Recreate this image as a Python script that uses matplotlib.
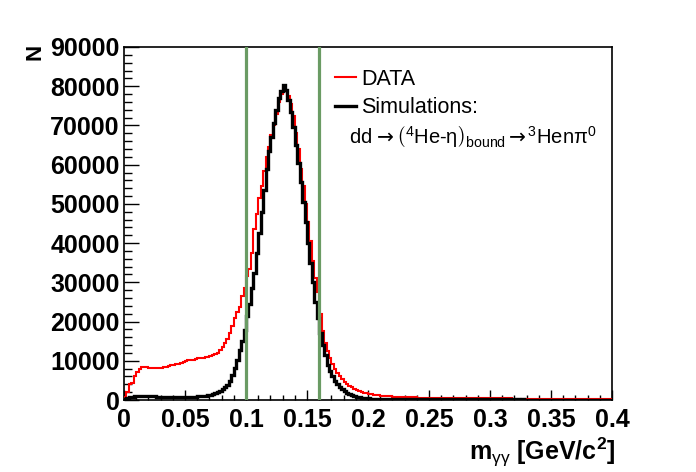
import numpy as np
import matplotlib
matplotlib.use("Agg")
import matplotlib.pyplot as plt

plt.rcParams['font.family'] = ['Liberation Sans', 'DejaVu Sans']
plt.rcParams['mathtext.fontset'] = 'custom'
plt.rcParams['mathtext.rm'] = 'Liberation Sans'
plt.rcParams['mathtext.it'] = 'Liberation Sans'
plt.rcParams['mathtext.bf'] = 'Liberation Sans:bold'
plt.rcParams['mathtext.sf'] = 'DejaVu Sans'

# ---- data (200 bins of 0.002 GeV/c^2 from 0 to 0.4) ----
x_min, x_max, n_bins = 0.0, 0.4, 200

data_counts = [
    800, 2100, 4200, 4400, 6100, 7200, 8000, 8300, 8350, 8300,
    8200, 8150, 8100, 8100, 8100, 8150, 8300, 8500, 8700, 8800,
    8900, 9100, 9300, 9500, 9700, 9900, 10100, 10200, 10300, 10400,
    10600, 10700, 10800, 10900, 11000, 11200, 11400, 11700, 12100, 12700,
    13500, 14500, 15600, 17000, 18800, 20800, 22500, 23800, 26500, 28500,
    31500, 33500, 37500, 43500, 47500, 51500, 54500, 58500, 62000, 64500,
    67500, 70000, 73000, 76000, 78000, 79500, 78800, 77500, 75500, 72500,
    68000, 64000, 59000, 54500, 50000, 45500, 40500, 35500, 31000, 27500,
    22000, 17500, 14500, 12500, 10800, 9300, 8000, 7000, 6100, 5300,
    4700, 4100, 3600, 3200, 2900, 2600, 2300, 2100, 1900, 1700,
    1550, 1450, 1350, 1270, 1200, 1130, 1070, 1020, 970, 930,
    890, 850, 820, 790, 760, 730, 710, 690, 670, 650,
    630, 610, 600, 590, 570, 560, 550, 540, 530, 520,
    510, 500, 495, 490, 485, 480, 470, 465, 460, 455,
    450, 445, 440, 440, 435, 430, 425, 420, 420, 415,
    410, 410, 405, 400, 400, 395, 390, 390, 385, 380,
    380, 375, 375, 370, 370, 365, 365, 360, 360, 355,
    355, 350, 350, 350, 345, 345, 340, 340, 340, 335,
    335, 335, 330, 330, 330, 325, 325, 325, 320, 320,
    320, 315, 315, 315, 310, 310, 310, 305, 305, 300,
]

sim_counts = [
    300, 500, 700, 800, 900, 950, 1000, 1100, 1050, 1000,
    1000, 950, 900, 850, 800, 800, 750, 750, 700, 700,
    700, 700, 700, 700, 750, 750, 750, 800, 800, 850,
    900, 950, 1000, 1100, 1250, 1400, 1600, 1850, 2100, 2400,
    2800, 3300, 3900, 4900, 6300, 8200, 10300, 12700, 15000, 17800,
    21500, 24500, 28500, 32500, 37500, 42500, 48000, 53500, 59000, 63500,
    67000, 70500, 74000, 77000, 78800, 80200, 79000, 76500, 73500, 69500,
    65000, 60500, 55500, 50500, 45500, 40000, 35000, 30000, 25000, 21000,
    17000, 14000, 11500, 9000, 7300, 6000, 4900, 4000, 3300, 2700,
    2200, 1800, 1500, 1200, 1000, 850, 700, 600, 500, 450,
    420, 380, 350, 330, 310, 290, 275, 260, 250, 240,
    230, 225, 220, 215, 210, 205, 200, 200, 195, 190,
    190, 185, 190, 180, 185, 175, 180, 175, 170, 175,
    170, 165, 170, 165, 160, 165, 160, 160, 155, 160,
    155, 150, 155, 150, 150, 145, 150, 145, 145, 140,
    145, 140, 140, 135, 140, 135, 135, 130, 135, 130,
    130, 130, 125, 130, 125, 125, 120, 125, 120, 120,
    120, 115, 120, 115, 115, 115, 110, 115, 110, 110,
    110, 110, 105, 110, 105, 105, 105, 100, 105, 100,
    100, 100, 100, 95, 100, 95, 95, 95, 95, 90,
]

cut_lines = [0.10, 0.16]
x_ticks = [0, 0.05, 0.1, 0.15, 0.2, 0.25, 0.3, 0.35, 0.4]
x_tick_labels = ["0", "0.05", "0.1", "0.15", "0.2", "0.25", "0.3", "0.35", "0.4"]
y_ticks = [0, 10000, 20000, 30000, 40000, 50000, 60000, 70000, 80000, 90000]

edges = np.linspace(x_min, x_max, n_bins + 1)

fig = plt.figure(figsize=(6.96, 4.72), dpi=100)
ax = fig.add_axes([124/696, 72/472, 488/696, 353/472])

ax.stairs(data_counts, edges, color='#ff0000', linewidth=1.5, label='DATA', zorder=3)
ax.stairs(sim_counts, edges, color='black', linewidth=2.4, label='Simulations:', zorder=4)

for c in cut_lines:
    ax.axvline(c, color='#6a9b64', linewidth=2.3, zorder=5)

ax.set_xlim(x_min, x_max)
ax.set_ylim(0, 90000)

ax.set_xticks(x_ticks)
ax.set_xticklabels(x_tick_labels)
ax.set_xticks(np.arange(0, 0.4001, 0.01), minor=True)
ax.set_yticks(y_ticks)
ax.set_yticklabels([str(v) for v in y_ticks])
ax.set_yticks(np.arange(0, 90001, 2000), minor=True)

ax.tick_params(axis='x', which='major', direction='in', length=7.5, width=1.0,
               labelsize=18, pad=6, top=False)
ax.tick_params(axis='x', which='minor', direction='in', length=3.8, width=1.0, top=False)
ax.tick_params(axis='y', which='major', direction='in', length=11, width=1.0,
               labelsize=18, pad=3, right=False)
ax.tick_params(axis='y', which='minor', direction='in', length=6, width=1.0, right=False)
for lab in ax.get_xticklabels() + ax.get_yticklabels():
    lab.set_fontweight('bold')

for s in ax.spines.values():
    s.set_linewidth(1.2)

leg = ax.legend(loc='upper left', bbox_to_anchor=(0.415, 0.962), frameon=False,
                fontsize=15.5, handlelength=0.95, handletextpad=0.25,
                labelspacing=0.33, borderaxespad=0.0)

ax.text(0.462, 0.727,
        r'dd $\mathsf{→}\,\left(^{4}\mathrm{He}\text{-}\eta\right)_{\mathrm{bound}}\,\mathsf{→}\,^{3}\mathrm{Hen}\pi^{0}$',
        transform=ax.transAxes, fontsize=14.5, ha='left', va='baseline')

fig.text(615/696, 12/472, r'$\mathbf{m}_{\gamma\gamma}$ [GeV/c$^{\mathbf{2}}$]',
         fontsize=18, fontweight='bold', ha='right', va='baseline')
fig.text(35/696, 1 - 52/472, 'N', fontsize=16, fontweight='bold', rotation=90,
         ha='center', va='center')

fig.savefig('out.png', dpi=100)
